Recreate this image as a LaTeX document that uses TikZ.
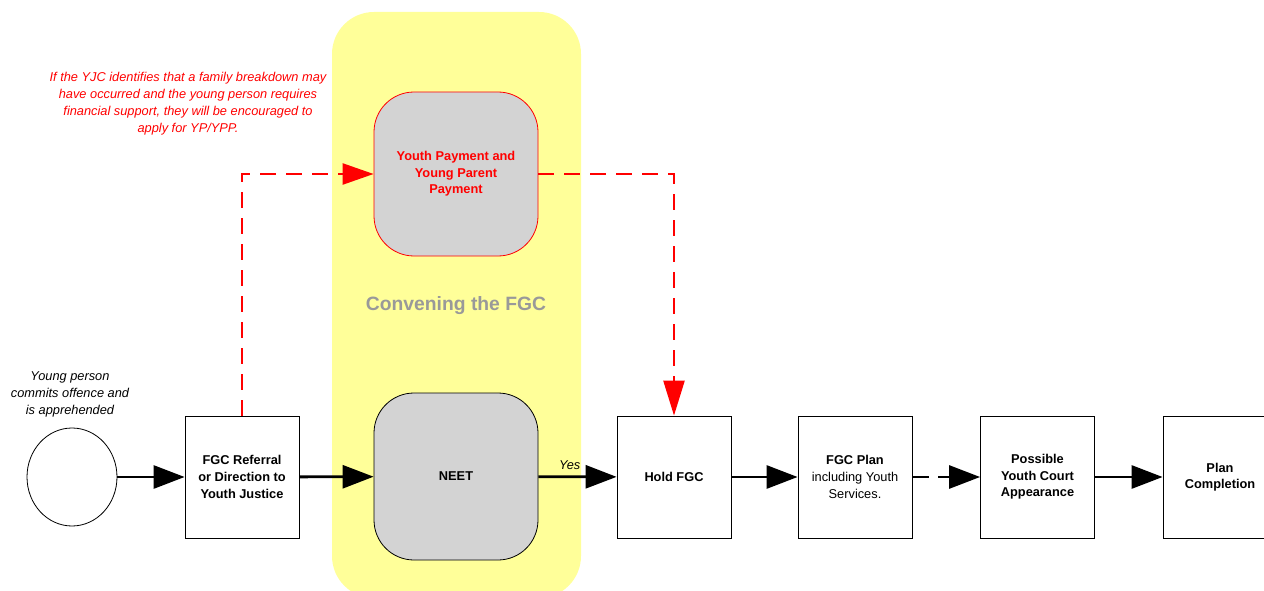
\documentclass[tikz,border=0pt]{standalone}
\usepackage{fontspec}
\setmainfont{Liberation Sans}
\usetikzlibrary{arrows.meta,shapes.geometric}
\definecolor{fgcyellow}{HTML}{FFFF99}
\definecolor{fgcgray}{HTML}{D3D3D3}
\definecolor{labelgray}{HTML}{999999}
\begin{document}
\begin{tikzpicture}[x=1pt,y=-1pt,
  box/.style={draw=black, line width=0.8pt, fill=white, minimum width=114pt, minimum height=122pt,
    inner sep=0pt, align=center, font=\bfseries\fontsize{12.8}{16.6}\selectfont},
  rbox/.style={line width=0.8pt, fill=fgcgray, rounded corners=40pt, minimum width=164pt,
    inner sep=0pt, align=center, font=\bfseries\fontsize{12.8}{16.6}\selectfont},
  conn/.style={line width=2.8pt, -{Triangle[length=31pt,width=23pt]}},
  rconn/.style={line width=2.4pt, red, dash pattern=on 16pt off 10pt, -{Triangle[length=31pt,width=21pt]}},
  note/.style={align=center, font=\itshape\fontsize{12.8}{17}\selectfont}
]
\useasboundingbox (0,0) rectangle (1264,591);
\fill[fgcyellow, rounded corners=42pt] (332,12) rectangle (581,598);
\node[font=\bfseries\fontsize{19.3}{22}\selectfont, text=labelgray] (conv) at (456,306) {Convening the FGC};

\node[draw=black, line width=0.8pt, ellipse, minimum width=90pt, minimum height=98pt, inner sep=0pt] (start) at (72,477) {};
\node[note] (startlbl) at (70,394) {Young person\\commits offence and\\is apprehended};
\node[note, text=red] (rednote) at (188,104) {If the YJC identifies that a family breakdown may\\have occurred and the young person requires\\financial support, they will be encouraged to\\apply for YP/YPP.};

\node[box] (ref) at (242,477) {FGC Referral\\or Direction to\\Youth Justice};
\node[rbox, draw=red, text=red, minimum height=164pt] (ypp) at (456,174) {Youth Payment and\\Young Parent\\Payment};
\node[rbox, draw=black, minimum height=167pt] (neet) at (456,476.5) {NEET};
\node[box] (hold) at (674,477) {Hold FGC};
\node[box] (plan) at (855,477) {FGC Plan\\\mdseries including Youth\\\mdseries Services.};
\node[box] (court) at (1037.5,477) {Possible\\Youth Court\\Appearance};
\node[box] (done) at (1220,477) {Plan\\Completion};

\draw[conn] (start) -- (ref);
\draw[conn] (ref) -- (neet);
\draw[conn] (neet) -- node[pos=0.4, above=2pt, font=\itshape\fontsize{12.8}{15}\selectfont] (yes) {Yes} (hold);
\draw[conn] (hold) -- (plan);
\draw[conn, dash pattern=on 17pt off 9pt] (plan) -- (court);
\draw[conn] (court) -- (done);

\draw[rconn] (ref.north) -- (ref.north |- ypp.west) -- (ypp.west);
\draw[rconn, -{Triangle[length=35pt,width=21pt]}] (ypp.east) -| (hold.north);
\end{tikzpicture}
\end{document}
